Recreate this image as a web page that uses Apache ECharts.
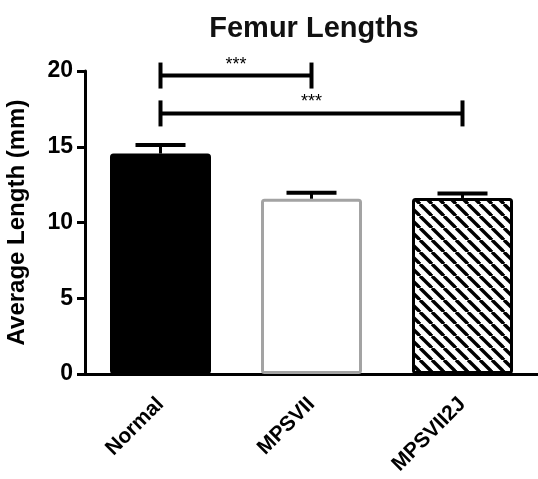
<!DOCTYPE html>
<html>
<head>
<meta charset="utf-8">
<script src="https://cdn.jsdelivr.net/npm/echarts@6/dist/echarts.min.js"></script>
<style>
  html, body { margin: 0; padding: 0; background: #fff; }
  #chart { width: 538px; height: 479px; }
</style>
</head>
<body>
<div id="chart"></div>
<script>
// data
const categories = ['Normal', 'MPSVII', 'MPSVII2J'];
const meanLength = [14.55, 11.57, 11.62];
const semLength = [0.57, 0.4, 0.3];
// significance brackets: [from category, to category, height]
const brackets = [[0, 1, 19.7, '***'], [0, 2, 17.2, '***']];

const FONT = 'Liberation Sans, Arial, sans-serif';

// hatched fill for the last bar
function stripes() {
  const s = 12;
  const c = document.createElement('canvas');
  c.width = s; c.height = s;
  const ctx = c.getContext('2d');
  ctx.fillStyle = '#fff';
  ctx.fillRect(0, 0, s, s);
  ctx.strokeStyle = '#000';
  ctx.lineWidth = 3.4;
  for (let x0 = -s; x0 <= s; x0 += s) {
    ctx.beginPath();
    ctx.moveTo(x0, 0);
    ctx.lineTo(x0 + s, s);
    ctx.stroke();
  }
  return c;
}

const barStyles = [
  { color: '#000', borderColor: '#000', borderWidth: 3, borderRadius: 2 },
  { color: '#fff', borderColor: '#a3a3a3', borderWidth: 3, borderRadius: 2 },
  { color: { image: stripes(), repeat: 'repeat' }, borderColor: '#000', borderWidth: 3, borderRadius: 2 }
];

const chart = echarts.init(document.getElementById('chart'));

const option = {
  animation: false,
  backgroundColor: '#fff',
  title: {
    text: 'Femur Lengths',
    left: 309,
    textAlign: 'center',
    top: 9,
    textStyle: { fontFamily: FONT, fontWeight: 'bold', fontSize: 29, color: '#111' }
  },
  grid: { left: 85, right: 0, top: 71, bottom: 105, containLabel: false, outerBoundsMode: 'none' },
  xAxis: {
    type: 'category',
    data: categories,
    axisLine: { lineStyle: { color: '#000', width: 3 } },
    axisTick: { alignWithLabel: true, length: 8, lineStyle: { width: 3, color: '#000' } },
    axisLabel: {
      rotate: 45, margin: 27,
      fontFamily: FONT, fontWeight: 'bold', fontSize: 21, color: '#000'
    }
  },
  yAxis: {
    type: 'value',
    min: 0, max: 20, interval: 5,
    name: 'Average Length (mm)',
    nameLocation: 'middle',
    nameGap: 56,
    nameRotate: 90,
    nameTextStyle: { fontFamily: FONT, fontWeight: 'bold', fontSize: 24, color: '#000' },
    splitLine: { show: false },
    axisLine: { show: true, lineStyle: { color: '#000', width: 3 } },
    axisTick: { show: true, length: 8, lineStyle: { width: 3, color: '#000' } },
    axisLabel: { margin: 12, fontFamily: FONT, fontWeight: 'bold', fontSize: 23, color: '#000' }
  },
  series: [
    {
      type: 'bar',
      barWidth: 101,
      data: meanLength.map((v, i) => ({ value: v, itemStyle: barStyles[i] })),
      z: 2
    },
    {
      type: 'custom',
      name: 'sem',
      z: 3,
      data: meanLength.map((v, i) => [i, v, v + semLength[i]]),
      renderItem: function (params, api) {
        const base = api.coord([api.value(0), api.value(1)]);
        const top = api.coord([api.value(0), api.value(2)]);
        const half = 25;
        return {
          type: 'group',
          children: [
            { type: 'line', shape: { x1: base[0], y1: base[1], x2: top[0], y2: top[1] }, style: { stroke: '#000', lineWidth: 3 } },
            { type: 'line', shape: { x1: top[0] - half, y1: top[1], x2: top[0] + half, y2: top[1] }, style: { stroke: '#000', lineWidth: 4 } }
          ]
        };
      }
    },
    {
      type: 'custom',
      name: 'brackets',
      z: 3,
      data: brackets,
      renderItem: function (params, api) {
        const a = api.coord([api.value(0), api.value(2)]);
        const b = api.coord([api.value(1), api.value(2)]);
        const h = 13;
        const st = { stroke: '#000', lineWidth: 4 };
        return {
          type: 'group',
          children: [
            { type: 'line', shape: { x1: a[0], y1: a[1], x2: b[0], y2: b[1] }, style: st },
            { type: 'line', shape: { x1: a[0], y1: a[1] - h, x2: a[0], y2: a[1] + h }, style: st },
            { type: 'line', shape: { x1: b[0], y1: b[1] - h, x2: b[0], y2: b[1] + h }, style: st },
            {
              type: 'text',
              style: {
                text: brackets[params.dataIndex][3],
                x: (a[0] + b[0]) / 2, y: a[1] - 2,
                align: 'center', verticalAlign: 'bottom',
                font: '18px ' + FONT, fill: '#000'
              }
            }
          ]
        };
      }
    }
  ]
};

chart.setOption(option);
</script>
</body>
</html>
